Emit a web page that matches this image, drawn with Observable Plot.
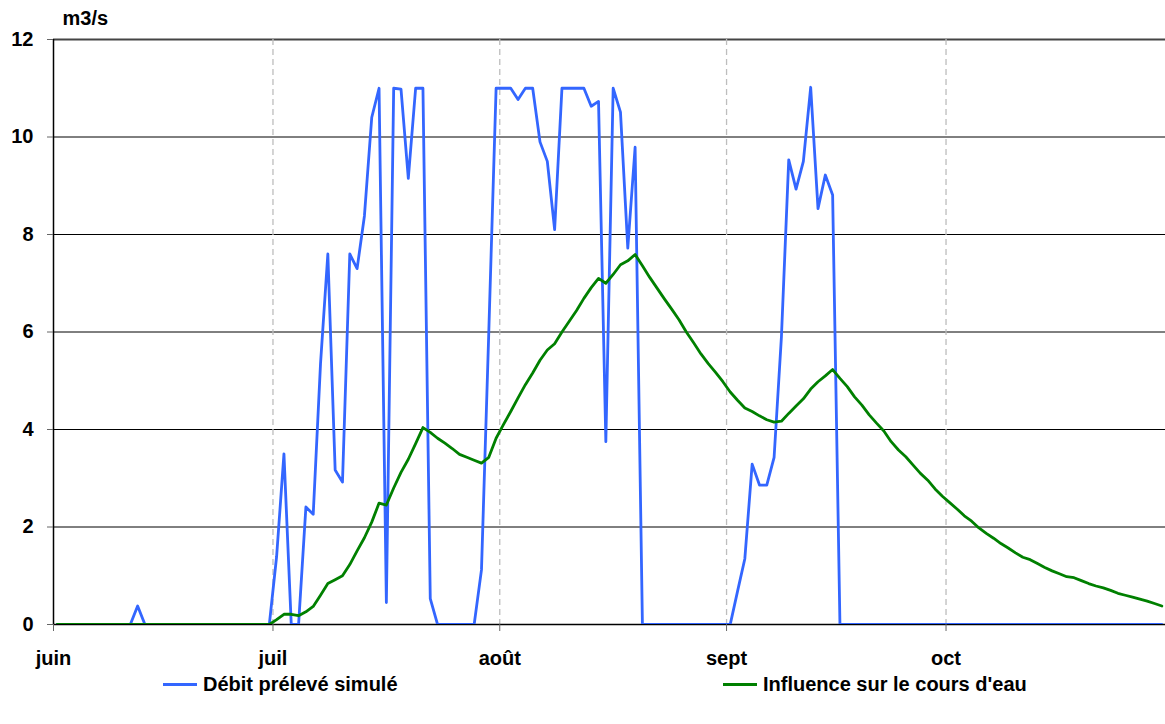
<!DOCTYPE html>
<html><head><meta charset="utf-8">
<script src="https://cdn.jsdelivr.net/npm/d3@7"></script>
<script src="https://cdn.jsdelivr.net/npm/@observablehq/plot@0.6"></script>
<style>
body{margin:0;background:#fff;font-family:"Liberation Sans",Arial,sans-serif;}
#legend{position:relative;width:1165px;height:52px;font-weight:bold;font-size:20px;color:#000;}
.item{position:absolute;top:0;height:24px;display:flex;align-items:center;white-space:nowrap;}
.sw{width:34px;height:3px;margin-right:6px;}
</style></head><body><div id="chart"></div><div id="legend"></div>
<script>
// Daily series, first value = 1 June, one value per day up to 31 Oct
const startDate = Date.UTC(2010, 5, 1);
const seriesNames = ["Débit prélevé simulé", "Influence sur le cours d'eau"];
const seriesColors = ["#3366ff", "#008000"];
const debitPreleve = [
  0,0,0,0,0,0,0,0,0,0, 0,0.38,0,0,0,0,0,0,0,0,
  0,0,0,0,0,0,0,0,0,0, 1.4,3.5,0,0,2.41,2.26,5.35,7.6,3.17,2.92,
  7.6,7.3,8.38,10.4,11.0,0.45,11.0,10.98,9.15,11.0, 11.0,0.53,0,0,0,0,0,0,1.12,6.0,
  11.0,11.0,11.0,10.77,11.0,11.0,9.9,9.5,8.1,11.0, 11.0,11.0,11.0,10.63,10.73,3.75,11.0,10.51,7.72,9.79,
  0,0,0,0,0,0,0,0,0,0, 0,0,0,0.68,1.35,3.29,2.86,2.86,3.43,5.9,
  9.53,8.93,9.5,11.02,8.53,9.22,8.81,0,0,0, 0,0,0,0,0,0,0,0,0,0,
  0,0,0,0,0,0,0,0,0,0, 0,0,0,0,0,0,0,0,0,0,
  0,0,0,0,0,0,0,0,0,0, 0,0
];
const influence = [
  0,0,0,0,0,0,0,0,0,0, 0,0,0,0,0,0,0,0,0,0,
  0,0,0,0,0,0,0,0,0,0, 0.1,0.21,0.21,0.18,0.26,0.37,0.6,0.84,0.92,1.0,
  1.23,1.51,1.78,2.1,2.49,2.45,2.8,3.12,3.39,3.71, 4.04,3.94,3.82,3.72,3.61,3.49,3.43,3.37,3.31,3.43,
  3.82,4.1,4.37,4.65,4.92,5.16,5.42,5.63,5.76,6.0, 6.22,6.44,6.69,6.91,7.1,7.0,7.18,7.38,7.46,7.59,
  7.36,7.12,6.9,6.68,6.47,6.25,6.0,5.78,5.55,5.35, 5.17,4.98,4.77,4.6,4.44,4.37,4.28,4.2,4.15,4.17,
  4.33,4.48,4.63,4.83,4.98,5.1,5.23,5.05,4.88,4.67, 4.5,4.3,4.13,3.97,3.75,3.58,3.44,3.27,3.1,2.96,
  2.78,2.63,2.5,2.37,2.23,2.12,1.98,1.87,1.77,1.66, 1.57,1.47,1.38,1.33,1.25,1.17,1.1,1.04,0.98,0.96,
  0.9,0.84,0.79,0.75,0.7,0.64,0.6,0.56,0.52,0.48, 0.43,0.38
];
const monthTicks = [Date.UTC(2010,5,1), Date.UTC(2010,6,1), Date.UTC(2010,7,1), Date.UTC(2010,8,1), Date.UTC(2010,9,1)];
const monthLabels = ["juin", "juil", "août", "sept", "oct"];
const yTicks = [0, 2, 4, 6, 8, 10, 12];
const yUnit = "m3/s";

const DAY = 86400000;
const toRows = (vals) => vals.map((v, i) => ({date: new Date(startDate + i * DAY + DAY / 2), value: v}));
const rowsA = toRows(debitPreleve);
const rowsB = toRows(influence);
const tickDates = monthTicks.map(t => new Date(t));

const chart = Plot.plot({
  width: 1165,
  height: 672,
  marginLeft: 53,
  marginRight: 0,
  marginTop: 39,
  marginBottom: 48,
  style: {fontFamily: "'Liberation Sans', Arial, sans-serif", fontSize: "20px", fontWeight: "bold", color: "#000", overflow: "visible"},
  x: {type: "utc", domain: [new Date(startDate), new Date(Date.UTC(2010, 9, 31))], label: null},
  y: {domain: [0, 12], label: null},
  marks: [
    Plot.ruleY(yTicks.filter(d => d > 0 && d < 12), {stroke: "#000", strokeWidth: 1}),
    Plot.ruleY([12], {stroke: "#444", strokeWidth: 2}),
    Plot.ruleX(tickDates.slice(1), {stroke: "#bdbdbd", strokeWidth: 1.3, strokeDasharray: "6,4"}),
    Plot.ruleY([0], {stroke: "#000", strokeWidth: 1.5}),
    Plot.ruleX([tickDates[0]], {stroke: "#000", strokeWidth: 1.5}),
    Plot.axisY({ticks: yTicks, tickSize: 6, tickPadding: 14, stroke: "#666", fontWeight: "bold", fontSize: 20, label: null}),
    Plot.axisX({ticks: tickDates, tickSize: 7, tickPadding: 19, stroke: "#666", fontWeight: "bold", fontSize: 20, label: null,
      tickFormat: d => monthLabels[tickDates.findIndex(t => +t === +d)]}),
    Plot.line(rowsA, {x: "date", y: "value", stroke: seriesColors[0], strokeWidth: 2.8, clip: true}),
    Plot.line(rowsB, {x: "date", y: "value", stroke: seriesColors[1], strokeWidth: 2.8, clip: true}),
    Plot.text([yUnit], {frameAnchor: "top-left", text: d => d, dx: 9, dy: -21, lineAnchor: "middle", textAnchor: "start", fontWeight: "bold", fontSize: 20})
  ]
});
document.getElementById("chart").appendChild(chart);

const legend = document.getElementById("legend");
const legendLeft = [163, 723];
seriesNames.forEach((name, i) => {
  const it = document.createElement("div");
  it.className = "item";
  it.style.left = legendLeft[i] + "px";
  it.innerHTML = `<span class="sw" style="background:${seriesColors[i]}"></span><span>${name}</span>`;
  legend.appendChild(it);
});
</script>
</body></html>
